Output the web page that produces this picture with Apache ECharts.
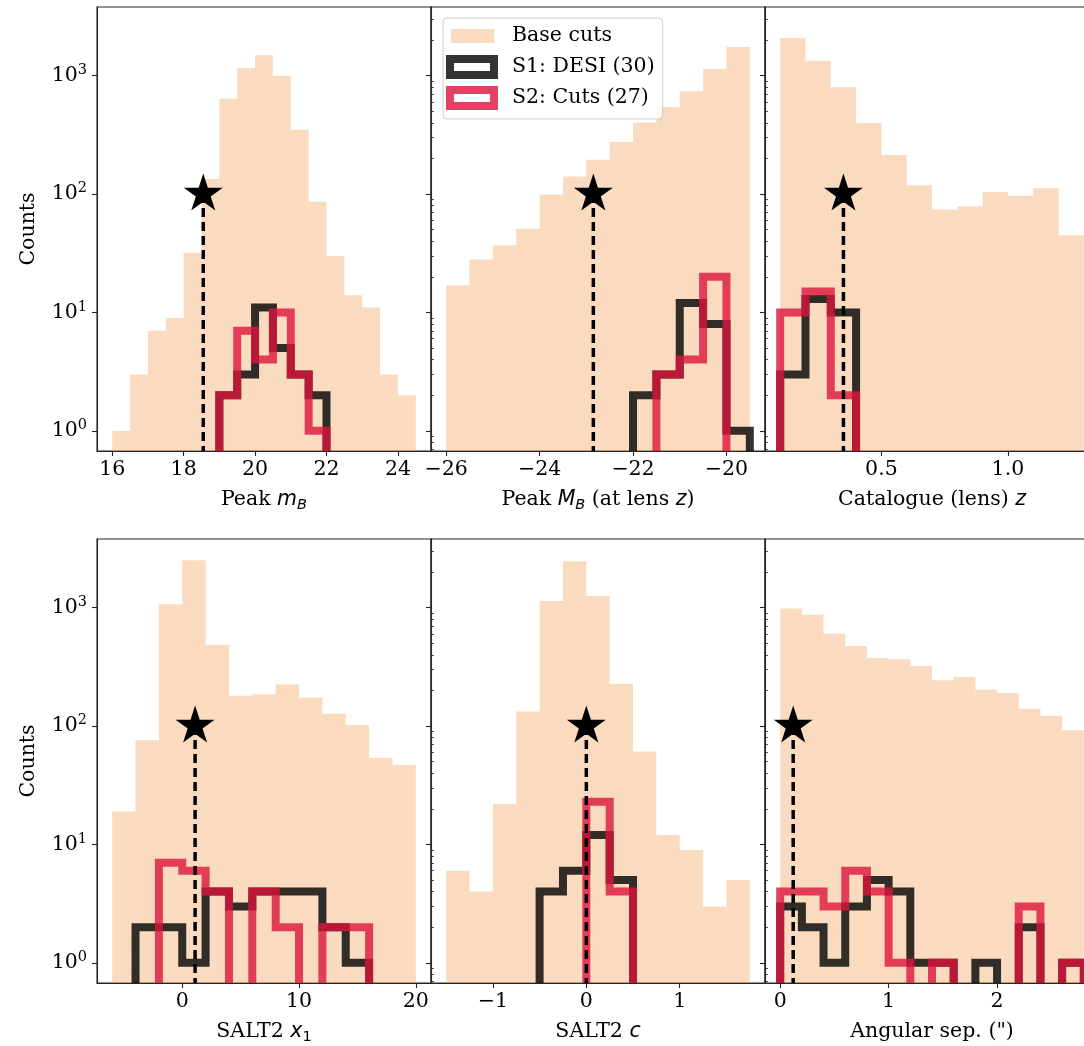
<!DOCTYPE html>
<html>
<head>
<meta charset="utf-8">
<script src="https://cdn.jsdelivr.net/npm/echarts@6/dist/echarts.min.js"></script>
<style>
  html, body { margin: 0; padding: 0; background: #ffffff; }
  #chart { width: 1084px; height: 1046px; }
</style>
</head>
<body>
<div id="chart"></div>
<script>
// ---- Histogram data: bin edges, counts per bin, tick values, lens value ----

// Peak m_B
const mbEdges = [16, 16.5, 17, 17.5, 18, 18.5, 19, 19.5, 20, 20.5, 21, 21.5, 22, 22.5, 23, 23.5, 24, 24.5];
const mbBase  = [1, 3, 7, 9, 32, 134, 639, 1161, 1485, 1000, 350, 86, 30, 14, 11, 3, 2];
const mbS1    = [0, 0, 0, 0, 0, 0, 2, 3, 11, 5, 3, 2, 0, 0, 0, 0, 0];
const mbS2    = [0, 0, 0, 0, 0, 0, 2, 7, 4, 10, 3, 1, 0, 0, 0, 0, 0];
const mbTicks = [16, 18, 20, 22, 24];
const mbLens  = 18.55;

// Peak M_B at lens redshift
const absEdges = [-26, -25.5, -25, -24.5, -24, -23.5, -23, -22.5, -22, -21.5, -21, -20.5, -20, -19.5];
const absBase  = [17, 28, 37, 51, 99, 141, 195, 275, 403, 543, 737, 1138, 1747];
const absS1    = [0, 0, 0, 0, 0, 0, 0, 0, 2, 3, 12, 8, 1];
const absS2    = [0, 0, 0, 0, 0, 0, 0, 0, 0, 3, 4, 20, 0];
const absTicks = [-26, -24, -22, -20];
const absLens  = -22.85;

// Catalogue (lens) redshift
const zEdges = [0.1, 0.2, 0.3, 0.4, 0.5, 0.6, 0.7, 0.8, 0.9, 1.0, 1.1, 1.2, 1.3];
const zBase  = [2081, 1339, 797, 398, 214, 119, 74, 79, 104, 97, 112, 45];
const zS1    = [3, 13, 10, 0, 0, 0, 0, 0, 0, 0, 0, 0];
const zS2    = [10, 15, 2, 0, 0, 0, 0, 0, 0, 0, 0, 0];
const zTicks = [0.5, 1.0];
const zLens  = 0.35;

// SALT2 x1
const x1Edges = [-6, -4, -2, 0, 2, 4, 6, 8, 10, 12, 14, 16, 18, 20];
const x1Base  = [19, 76, 1067, 2512, 487, 180, 186, 224, 174, 127, 102, 54, 47];
const x1S1    = [0, 2, 2, 1, 4, 3, 4, 4, 4, 2, 1, 0, 0];
const x1S2    = [0, 0, 7, 6, 4, 0, 4, 2, 0, 2, 2, 0, 0];
const x1Ticks = [0, 10, 20];
const x1Lens  = 1.1;

// SALT2 c
const cEdges = [-1.5, -1.25, -1, -0.75, -0.5, -0.25, 0, 0.25, 0.5, 0.75, 1, 1.25, 1.5, 1.75];
const cBase  = [6, 4, 22, 133, 1140, 2464, 1256, 228, 61, 12, 9, 3, 5];
const cS1    = [0, 0, 0, 0, 4, 6, 12, 5, 0, 0, 0, 0, 0];
const cS2    = [0, 0, 0, 0, 0, 0, 23, 4, 0, 0, 0, 0, 0];
const cTicks = [-1, 0, 1];
const cLens  = 0.0;

// Angular separation (arcsec)
const sepEdges = [0, 0.2, 0.4, 0.6, 0.8, 1.0, 1.2, 1.4, 1.6, 1.8, 2.0, 2.2, 2.4, 2.6, 2.8];
const sepBase  = [982, 873, 604, 475, 376, 366, 322, 244, 260, 203, 190, 140, 122, 92];
const sepS1    = [3, 2, 1, 3, 5, 4, 1, 1, 0, 1, 0, 2, 0, 1];
const sepS2    = [4, 4, 3, 6, 4, 1, 0, 1, 0, 0, 0, 3, 0, 1];
const sepTicks = [0, 1, 2];
const sepLens  = 0.12;

const yTicks = [1, 10, 100, 1000];
const lensCount = 100;

// ---- Styling ----
const SERIF = 'DejaVu Serif';
const MATH = 'DejaVu Sans';
const FS = 20.5;
const SPINE = '#262626';
const BASE_FILL = 'rgba(244,164,96,0.4)';
const S1_COLOR = 'rgba(0,0,0,0.8)';
const S2_COLOR = 'rgba(220,20,60,0.8)';
const STEP_W = 8;

const Y_MIN = Math.pow(10, -0.17);
const Y_MAX = Math.pow(10, 3.58);
const FLOOR = 0.3; // below the axis, clipped away

const minus = v => String(v).replace('-', '\u2212');

const panels = [
  { edges: mbEdges, base: mbBase, s1: mbS1, s2: mbS2, ticks: mbTicks, lens: mbLens,
    min: 15.575, max: 24.925, fmt: minus, name: 'Peak {i|m}{s|B}' },
  { edges: absEdges, base: absBase, s1: absS1, s2: absS2, ticks: absTicks, lens: absLens,
    min: -26.325, max: -19.175, fmt: minus, name: 'Peak {i|M}{s|B} (at lens {i|z})' },
  { edges: zEdges, base: zBase, s1: zS1, s2: zS2, ticks: zTicks, lens: zLens,
    min: 0.04, max: 1.36, fmt: v => v.toFixed(1), name: 'Catalogue (lens) {i|z}' },
  { edges: x1Edges, base: x1Base, s1: x1S1, s2: x1S2, ticks: x1Ticks, lens: x1Lens,
    min: -7.3, max: 21.3, fmt: minus, name: 'SALT2 {i|x}{n|1}' },
  { edges: cEdges, base: cBase, s1: cS1, s2: cS2, ticks: cTicks, lens: cLens,
    min: -1.6625, max: 1.9125, fmt: minus, name: 'SALT2 {i|c}' },
  { edges: sepEdges, base: sepBase, s1: sepS1, s2: sepS2, ticks: sepTicks, lens: sepLens,
    min: -0.14, max: 2.94, fmt: minus, name: 'Angular sep. (")' }
];

// minor ticks of the log axis: 2..9 times each decade
const yMinor = [];
for (let e = -1; e <= 3; e++) {
  for (let m = 2; m <= 9; m++) {
    const v = m * Math.pow(10, e);
    if (v > Y_MIN && v < Y_MAX) yMinor.push(v);
  }
}

// five-pointed star marker
function starPath(R, inner) {
  let d = '';
  for (let k = 0; k < 10; k++) {
    const r = k % 2 ? R * inner : R;
    const a = -Math.PI / 2 + k * Math.PI / 5;
    d += (k ? 'L' : 'M') + (r * Math.cos(a)).toFixed(3) + ',' + (r * Math.sin(a)).toFixed(3);
  }
  return 'path://' + d + 'Z';
}
const STAR = starPath(20.5, 0.381966);

// outline of a step histogram as a list of [x, count] vertices
function stepPoints(edges, counts) {
  const pts = [[edges[0], FLOOR]];
  counts.forEach((c, i) => {
    const v = c > 0 ? c : FLOOR;
    pts.push([edges[i], v], [edges[i + 1], v]);
  });
  pts.push([edges[edges.length - 1], FLOOR]);
  return pts;
}

const nameRich = {
  i: { fontFamily: MATH, fontStyle: 'italic', fontSize: FS, lineHeight: 26, color: '#000' },
  s: { fontFamily: MATH, fontStyle: 'italic', fontSize: 14.5, lineHeight: 12, verticalAlign: 'bottom', color: '#000' },
  n: { fontFamily: MATH, fontSize: 14.5, lineHeight: 12, verticalAlign: 'bottom', color: '#000' }
};

const grids = [], xAxes = [], yAxes = [], series = [];

panels.forEach((p, i) => {
  const col = i % 3, row = Math.floor(i / 3);
  grids.push({
    left: 97 + col * 334, top: row ? 539 : 7, width: 334, height: 444,
    show: true, borderColor: SPINE, borderWidth: 1.1, backgroundColor: 'transparent',
    containLabel: false, outerBoundsMode: 'none'
  });

  xAxes.push({
    gridIndex: i, type: 'value', min: p.min, max: p.max, z: 10,
    axisLine: { show: true, onZero: false, lineStyle: { color: SPINE, width: 1.1 } },
    axisTick: { show: true, customValues: p.ticks, length: 5, lineStyle: { color: SPINE, width: 1.1 } },
    axisLabel: { customValues: p.ticks, formatter: p.fmt, margin: 8, color: '#000', fontFamily: SERIF, fontSize: FS },
    splitLine: { show: false },
    name: p.name, nameLocation: 'middle', nameGap: 36,
    nameTextStyle: { fontFamily: SERIF, fontSize: FS, color: '#000', lineHeight: 26, rich: nameRich }
  });

  const leftCol = col === 0;
  yAxes.push({
    gridIndex: i, type: 'log', logBase: 10, min: Y_MIN, max: Y_MAX, z: 10,
    axisLine: { show: true, onZero: false, lineStyle: { color: SPINE, width: 1.1 } },
    axisTick: { show: true, customValues: yTicks, length: 5, lineStyle: { color: SPINE, width: 1.1 } },
    axisLabel: {
      show: leftCol, customValues: yTicks, margin: 10,
      formatter: v => '{b|10}{p|' + Math.round(Math.log10(v)) + '}',
      rich: {
        b: { fontFamily: SERIF, fontSize: FS, color: '#000', lineHeight: 26 },
        p: { fontFamily: SERIF, fontSize: 14.5, color: '#000', lineHeight: 16, verticalAlign: 'top' }
      }
    },
    splitLine: { show: false },
    name: leftCol ? 'Counts' : '', nameLocation: 'middle', nameGap: 58,
    nameTextStyle: { fontFamily: SERIF, fontSize: FS, color: '#000' }
  });
  // second log axis carrying only the minor ticks
  yAxes.push({
    gridIndex: i, type: 'log', logBase: 10, min: Y_MIN, max: Y_MAX, z: 10,
    axisLine: { show: false, onZero: false },
    axisTick: { show: true, customValues: yMinor, length: 2.8, lineStyle: { color: SPINE, width: 0.9 } },
    axisLabel: { show: false },
    splitLine: { show: false }
  });

  const yIdx = i * 2;

  // base-cut histogram bars
  const bars = p.base.map((c, k) => [p.edges[k], p.edges[k + 1], c]);
  series.push({
    name: 'Base cuts', type: 'custom', xAxisIndex: i, yAxisIndex: yIdx, z: 2,
    silent: true, animation: false,
    itemStyle: { color: BASE_FILL },
    data: bars,
    renderItem: (params, api) => {
      const a = api.coord([api.value(0), api.value(2)]);
      const b = api.coord([api.value(1), Y_MIN]);
      return { type: 'rect', shape: { x: a[0], y: a[1], width: b[0] - a[0], height: b[1] - a[1] },
               style: { fill: BASE_FILL } };
    }
  });

  // step outlines for the two samples
  [['S1: DESI (30)', p.s1, S1_COLOR, 3], ['S2: Cuts (27)', p.s2, S2_COLOR, 4]].forEach(([nm, counts, color, z]) => {
    const pts = stepPoints(p.edges, counts);
    series.push({
      name: nm, type: 'custom', xAxisIndex: i, yAxisIndex: yIdx, z: z,
      silent: true, animation: false,
      itemStyle: { color: color },
      data: pts,
      renderItem: (params, api) => {
        if (params.dataIndex !== 0) return null;
        const cs = params.coordSys;
        return {
          type: 'polyline',
          shape: { points: pts.map(q => api.coord(q)) },
          style: { stroke: color, lineWidth: STEP_W, fill: 'none', lineJoin: 'miter', lineCap: 'butt' },
          clipPath: { type: 'rect', shape: { x: cs.x, y: cs.y, width: cs.width, height: cs.height } }
        };
      }
    });
  });

  // dashed drop line under the lens marker
  series.push({
    name: 'lens-line', type: 'line', xAxisIndex: i, yAxisIndex: yIdx, z: 5,
    silent: true, animation: false, symbol: 'none',
    lineStyle: { color: '#000', width: 3.5, type: [9, 5], cap: 'butt', opacity: 1 },
    data: [[p.lens, lensCount], [p.lens, Y_MIN]]
  });
  // lens marker
  series.push({
    name: 'lens', type: 'scatter', xAxisIndex: i, yAxisIndex: yIdx, z: 6,
    silent: true, animation: false,
    symbol: STAR, symbolSize: 39, symbolKeepAspect: true, symbolOffset: [0, -2],
    itemStyle: { color: '#000', opacity: 1 },
    data: [[p.lens, lensCount]]
  });
});

const chart = echarts.init(document.getElementById('chart'), null, { renderer: 'canvas' });
chart.setOption({
  backgroundColor: '#ffffff',
  animation: false,
  textStyle: { fontFamily: SERIF },
  grid: grids,
  xAxis: xAxes,
  yAxis: yAxes,
  legend: {
    left: 443, top: 18, orient: 'vertical',
    padding: [5, 8, 8, 3], itemGap: 5, itemWidth: 61, itemHeight: 26,
    backgroundColor: 'rgba(255,255,255,0.8)', borderColor: '#cccccc', borderWidth: 1, borderRadius: 4,
    textStyle: { fontFamily: SERIF, fontSize: FS, color: '#000' },
    selectedMode: false, z: 20,
    data: [
      { name: 'Base cuts', icon: 'path://M0,0Z M5,6 H48 V20 H5 Z M61,26Z',
        itemStyle: { color: BASE_FILL, borderWidth: 0 } },
      { name: 'S1: DESI (30)', icon: 'path://M0,0Z M0,1 H52 V25 H0 Z M8,9 V17 H44 V9 Z M61,26Z',
        itemStyle: { color: S1_COLOR, borderWidth: 0 } },
      { name: 'S2: Cuts (27)', icon: 'path://M0,0Z M0,1 H52 V25 H0 Z M8,9 V17 H44 V9 Z M61,26Z',
        itemStyle: { color: S2_COLOR, borderWidth: 0 } }
    ]
  },
  series: series
});
</script>
</body>
</html>
